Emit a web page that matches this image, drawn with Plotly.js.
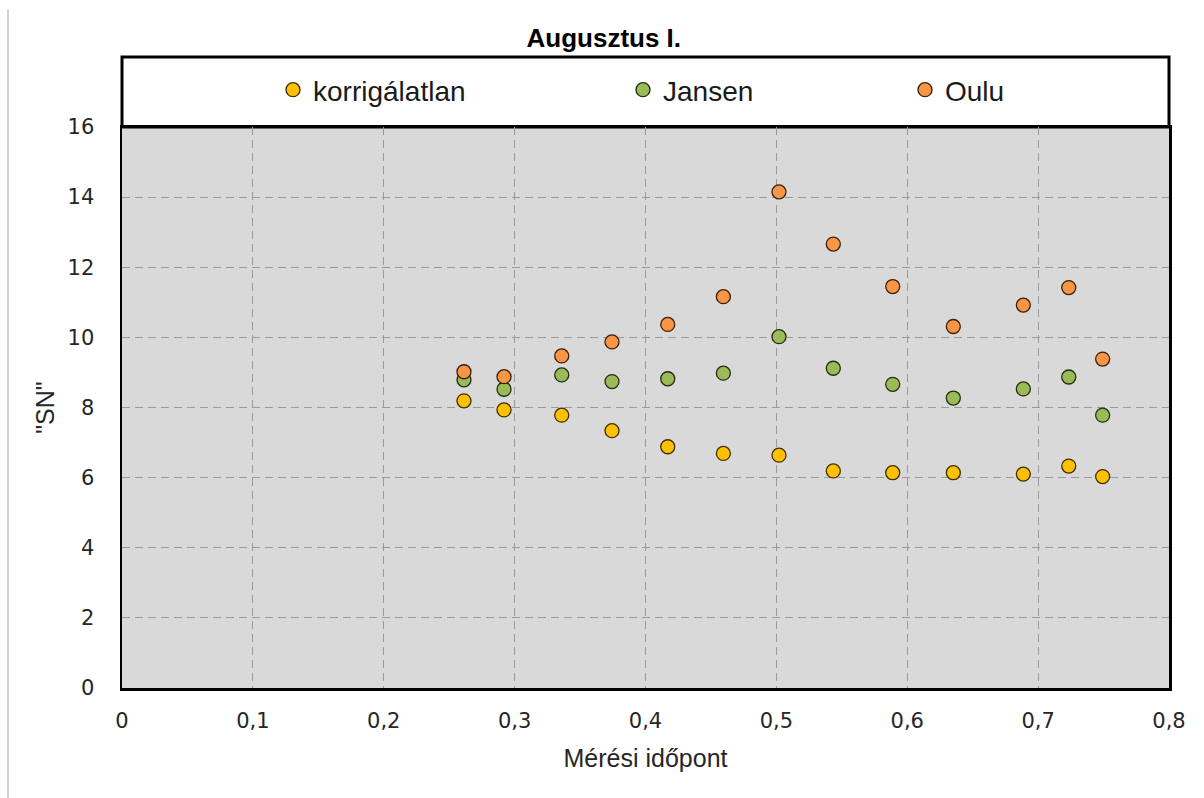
<!DOCTYPE html>
<html>
<head>
<meta charset="utf-8">
<script src="https://cdn.plot.ly/plotly-3.0.1.min.js"></script>
<style>html,body{margin:0;padding:0;background:#fff;}#chart{width:1204px;height:798px;}</style>
</head>
<body>
<div id="chart"></div>
<script>
// Data
const xTime = [0.2613, 0.2919, 0.3360, 0.3744, 0.4170, 0.4595, 0.5020, 0.5435, 0.5889, 0.6352, 0.6887, 0.7234, 0.7493];
const korrigalatlan = [8.19, 7.93, 7.78, 7.34, 6.88, 6.69, 6.64, 6.19, 6.14, 6.14, 6.10, 6.33, 6.03];
const jansen = [8.79, 8.52, 8.93, 8.74, 8.82, 8.98, 10.02, 9.12, 8.66, 8.27, 8.53, 8.87, 7.78];
const oulu = [9.02, 8.88, 9.47, 9.87, 10.37, 11.16, 14.15, 12.66, 11.45, 10.31, 10.92, 11.42, 9.38];
const seriesNames = ['korrigálatlan', 'Jansen', 'Oulu'];
const titleText = 'Augusztus I.';
const xTitle = 'Mérési időpont';
const yTitle = '"SN"';

const L = 122, R = 35, T = 127, B = 110, W = 1204, H = 798;
const pw = W - L - R, ph = H - T - B;
const px = v => (v - L) / pw;
const py = v => (H - B - v) / ph;

function mk(color, line) {
  return {size: 14, color: color, line: {color: line, width: 1.3}};
}

const traces = [
  {x: xTime, y: korrigalatlan, name: seriesNames[0], mode: 'markers', type: 'scatter',
   marker: mk('#FFC000', '#3d2e00'), legend: 'legend'},
  {x: xTime, y: jansen, name: seriesNames[1], mode: 'markers', type: 'scatter',
   marker: mk('#9BBB59', '#1f2d10'), legend: 'legend2'},
  {x: xTime, y: oulu, name: seriesNames[2], mode: 'markers', type: 'scatter',
   marker: mk('#F79646', '#3a1e08'), legend: 'legend3'}
];

const legFont = {family: 'Liberation Sans, Arial, sans-serif', size: 28, color: '#1a1a1a'};
function leg(x) {
  return {x: x, y: py(90), xanchor: 'left', yanchor: 'middle', orientation: 'h',
          bgcolor: 'rgba(0,0,0,0)', borderwidth: 0, font: legFont};
}

const layout = {
  width: W, height: H,
  margin: {l: L, r: R, t: T, b: B, pad: 0},
  paper_bgcolor: '#ffffff',
  plot_bgcolor: '#d9d9d9',
  separators: ', ',
  showlegend: true,
  title: {text: titleText, xref: 'container', x: 0.5015, xanchor: 'center',
          yref: 'container', y: 1 - 38 / H, yanchor: 'middle',
          font: {family: 'Liberation Sans, Arial, sans-serif', size: 26, weight: 700, color: '#000'}},
  legend: leg(px(273)),
  legend2: leg(px(623)),
  legend3: leg(px(905)),
  xaxis: {
    range: [0, 0.8], dtick: 0.1, tick0: 0,
    showgrid: true, gridcolor: '#9a9a9a', gridwidth: 1, griddash: '8px,5px',
    zeroline: false, showline: true, mirror: true, linecolor: '#000', linewidth: 2.5,
    ticks: '', ticklabelstandoff: 12,
    tickfont: {family: 'DejaVu Sans, Verdana, sans-serif', size: 21, color: '#262626'},
    title: {text: xTitle, standoff: 18,
            font: {family: 'Liberation Sans, Arial, sans-serif', size: 25, color: '#262626'}},
    fixedrange: true
  },
  yaxis: {
    range: [0, 16], dtick: 2, tick0: 0,
    showgrid: true, gridcolor: '#9a9a9a', gridwidth: 1, griddash: '8px,5px',
    zeroline: false, showline: true, mirror: true, linecolor: '#000', linewidth: 2.5,
    ticks: '', ticklabelstandoff: 21,
    tickfont: {family: 'DejaVu Sans, Verdana, sans-serif', size: 21, color: '#262626'},
    title: {text: yTitle, standoff: 6,
            font: {family: 'Liberation Sans, Arial, sans-serif', size: 25, color: '#262626'}},
    fixedrange: true
  },
  shapes: [
    {type: 'rect', xref: 'paper', yref: 'paper', x0: 0, x1: 1, y0: 1, y1: py(57),
     line: {color: '#000', width: 3}, fillcolor: '#ffffff', layer: 'below'},
    {type: 'line', xref: 'paper', yref: 'paper', x0: px(8), x1: px(8), y0: py(10), y1: py(798),
     line: {color: '#d0d0d0', width: 2}}
  ]
};

Plotly.newPlot('chart', traces, layout, {displayModeBar: false, staticPlot: true});
</script>
</body>
</html>
